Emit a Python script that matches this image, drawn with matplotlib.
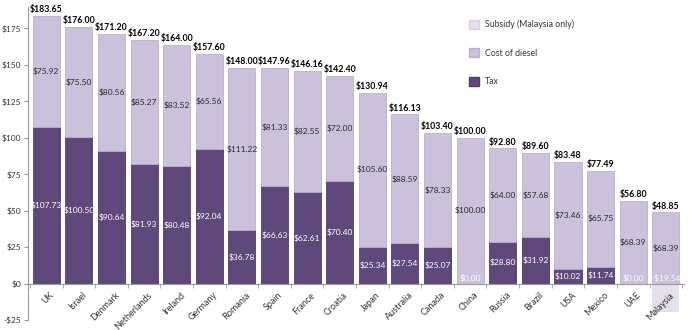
import numpy as np
import matplotlib.pyplot as plt
from matplotlib.patches import Patch

plt.rcParams['font.family'] = ['Lato', 'DejaVu Sans']

countries = ['UK', 'Israel', 'Denmark', 'Netherlands', 'Ireland', 'Germany', 'Romania',
             'Spain', 'France', 'Croatia', 'Japan', 'Australia', 'Canada', 'China',
             'Russia', 'Brazil', 'USA', 'Mexico', 'UAE', 'Malaysia']
tax = [107.73, 100.50, 90.64, 81.93, 80.48, 92.04, 36.78, 66.63, 62.61, 70.40,
       25.34, 27.54, 25.07, 0.00, 28.80, 31.92, 10.02, 11.74, 0.00, 0.00]
diesel = [75.92, 75.50, 80.56, 85.27, 83.52, 65.56, 111.22, 81.33, 82.55, 72.00,
          105.60, 88.59, 78.33, 100.00, 64.00, 57.68, 73.46, 65.75, 68.39, 68.39]
totals = [183.65, 176.00, 171.20, 167.20, 164.00, 157.60, 148.00, 147.96, 146.16, 142.40,
          130.94, 116.13, 103.40, 100.00, 92.80, 89.60, 83.48, 77.49, 56.80, 48.85]
subsidy = [0] * 19 + [-19.54]

c_tax = '#5f497a'
c_diesel = '#ccc1da'
c_sub = '#e5e0ec'

x = np.arange(len(countries))
tax = np.array(tax)
totals = np.array(totals)
upper = totals - tax  # drawn height of the diesel segment

fig = plt.figure(figsize=(6.9, 3.3), dpi=100)
ax = fig.add_axes([0.041, 0.03, 0.95, 0.95])

# axis line at zero (must come before tick styling, it resets ticks)
ax.spines['bottom'].set_position(('data', 0))
for s in ['top', 'right']:
    ax.spines[s].set_visible(False)
ax.spines['bottom'].set_color('#999999')
ax.spines['left'].set_color('#999999')

w = 0.83
ax.bar(x, tax, w, color=c_tax, edgecolor='#4e3c66', linewidth=0.6)
ax.bar(x, upper, w, bottom=tax, color=c_diesel, edgecolor='#bcaecf', linewidth=0.6)
ax.bar(x, subsidy, w, color=c_sub, edgecolor='none')

for i in range(len(countries)):
    ax.text(x[i], totals[i] + 1.2, f'${totals[i]:.2f}', ha='center', va='bottom',
            fontsize=6.3, fontweight='bold', color='black')
    ax.text(x[i], tax[i] + upper[i] / 2, f'${diesel[i]:.2f}', ha='center', va='center',
            fontsize=6, color='#2b2b2b')
    if subsidy[i] < 0:
        ax.text(x[i], 4, f'-${-subsidy[i]:.2f}', ha='center', va='center',
                fontsize=6, color='white')
    elif tax[i] == 0:
        ax.text(x[i], 4, '$0.00', ha='center', va='center', fontsize=6, color='white')
    else:
        ax.text(x[i], tax[i] / 2, f'${tax[i]:.2f}', ha='center', va='center',
                fontsize=6, color='white')

ax.set_xlim(-0.55, len(countries) - 0.45)
ax.set_ylim(-25, 190)
yt = np.arange(-25, 176, 25)
ax.set_yticks(yt)
ax.set_yticklabels([f'-${-v}' if v < 0 else f'${v}' for v in yt], fontsize=6, color='#333333')

ax.set_xticks(x + 0.1)
ax.set_xticklabels(countries, rotation=45, ha='right', va='top', rotation_mode='anchor',
                   fontsize=6.5, color='#333333')
ax.tick_params(axis='x', which='major', length=0, pad=5)
ax.set_xticks(np.arange(-0.5, len(countries), 1), minor=True)
ax.tick_params(axis='x', which='minor', length=3, direction='out', color='#999999')
ax.tick_params(axis='y', length=3, color='#999999', pad=2)

handles = [Patch(facecolor=c_sub, edgecolor='#d8d0e2', label='Subsidy (Malaysia only)'),
           Patch(facecolor=c_diesel, edgecolor='#bcaecf', label='Cost of diesel'),
           Patch(facecolor=c_tax, edgecolor='#4e3c66', label='Tax')]
fig.legend(handles=handles, loc='upper left', bbox_to_anchor=(0.668, 0.965), frameon=False,
           fontsize=6.3, labelspacing=2.2, handlelength=1.2, handleheight=1.2, handletextpad=0.6,
           labelcolor='#333333')

fig.savefig('out.png', dpi=100)
